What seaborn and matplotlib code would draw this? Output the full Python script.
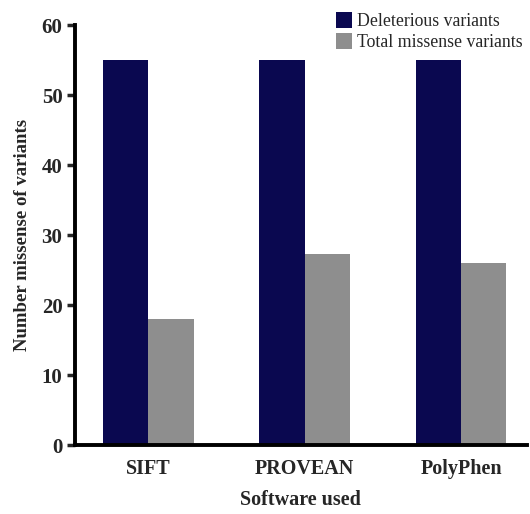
import pandas as pd
import matplotlib
matplotlib.use('Agg')
import matplotlib.pyplot as plt
import seaborn as sns

software = ['SIFT', 'PROVEAN', 'PolyPhen']
deleterious = [55, 55, 55]
total_missense = [18, 27.3, 26]
series = ['Deleterious variants', 'Total missense variants']

df = pd.DataFrame({
    'software': software * 2,
    'value': deleterious + total_missense,
    'serie': [series[0]] * 3 + [series[1]] * 3,
})

sns.set_style('ticks')
plt.rcParams['font.family'] = ['Liberation Serif', 'DejaVu Serif']

fig = plt.figure(figsize=(5.3, 5.14), dpi=100)
ax = fig.add_axes([0.1415, 0.134, 0.8525, 0.817])

sns.barplot(data=df, x='software', y='value', hue='serie', order=software,
            hue_order=series, palette=['#0a0850', '#8e8e8e'], width=0.58,
            saturation=1, linewidth=0, ax=ax)

ax.set_ylim(0, 60)
ax.set_xlim(-0.47, 2.42)
ax.set_yticks(range(0, 61, 10))
sns.despine(ax=ax)
for s in ['left', 'bottom']:
    ax.spines[s].set_linewidth(2.8)
    ax.spines[s].set_color('black')
ax.tick_params(axis='y', length=6, width=2.5, labelsize=15, pad=3)
ax.tick_params(axis='x', length=0, labelsize=14.5, pad=10)
for t in ax.get_xticklabels() + ax.get_yticklabels():
    t.set_fontweight('bold')

ax.set_xlabel('Software used', fontsize=14.5, fontweight='bold', labelpad=8)
ax.set_ylabel('Number missense of variants', fontsize=13.5, fontweight='bold', labelpad=8)

ax.legend(loc='upper right', bbox_to_anchor=(1.0, 0.99), bbox_transform=fig.transFigure,
          frameon=False, fontsize=12.8, handlelength=0.9, handleheight=1.0,
          handletextpad=0.3, labelspacing=0.15, borderpad=0.3, borderaxespad=0.1)

fig.savefig('out.png', dpi=100)
